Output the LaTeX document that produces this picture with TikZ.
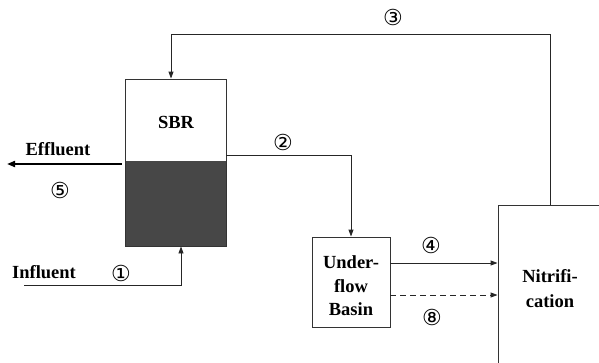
\documentclass[tikz,border=0pt]{standalone}
\usepackage{fontspec}
\setmainfont{Liberation Serif}
\newfontfamily\circfont{DejaVu Sans}
\usetikzlibrary{arrows.meta}

\begin{document}
\begin{tikzpicture}[
  x=1pt,
  y=-1pt,
  tankbox/.style={
    draw=black!80,
    line width=0.9pt,
    inner sep=0pt
  },
  tanktext/.style={
    font=\fontsize{18.5}{24}\selectfont\bfseries,
    align=center,
    inner sep=0pt
  },
  flowline/.style={
    draw=black!85,
    line width=0.9pt,
    -{Triangle[length=7pt,width=5pt]}
  },
  effline/.style={
    draw=black,
    line width=1.8pt,
    -{Triangle[length=8pt,width=6pt]}
  },
  circnum/.style={
    font=\circfont\fontsize{22}{22}\selectfont,
    inner sep=0pt
  }
]

\useasboundingbox (0,0) rectangle (599,362);
\clip (0,0) rectangle (599,362);

% reactor with settled sludge
\fill[black!72] (125,161) rectangle (226,246);
\node[tankbox, minimum width=101, minimum height=167] (sbr) at (175.5,162.5) {};
\node[tanktext] (sbrtext) at (176,122) {SBR};

\node[tankbox, minimum width=78, minimum height=90] (ubasin) at (351,282) {};
\node[tanktext, font=\fontsize{18.5}{23.5}\selectfont\bfseries] (ubtext) at (351,286) {Under-\\flow\\Basin};

% nitrification tank runs past the page edge
\node[tankbox, minimum width=104, minimum height=200] (nitri) at (550,305) {};
\node[tanktext, font=\fontsize{18.5}{25}\selectfont\bfseries] (nitritext) at (550,289) {Nitrifi-\\cation};

\node[tanktext] (effltext) at (58,149) {Effluent};
\node[tanktext] (infltext) at (44,272) {Influent};

\coordinate (topleft) at (171,34);
\coordinate (inflstart) at (24,285);
\coordinate (efflend) at (7,164);

\draw[flowline] (inflstart) -| ([xshift=5.5pt]sbr.south);
\draw[flowline] ([yshift=7.5pt]sbr.east) -| (ubasin.north);
\draw[flowline] (nitri.north) |- (topleft) -- (topleft |- sbr.north);
\draw[flowline] ([yshift=19pt]ubasin.east) -- ([yshift=19pt]ubasin.east -| nitri.west);
\draw[flowline, dashed, dash pattern=on 6pt off 4pt] ([yshift=-13pt]ubasin.east) -- ([yshift=-13pt]ubasin.east -| nitri.west);
\draw[effline] ([xshift=-3pt]sbr.west |- efflend) -- (efflend);

\node[circnum] (n1) at (121,273) {①};
\node[circnum] (n2) at (283,142) {②};
\node[circnum] (n3) at (393,17) {③};
\node[circnum] (n4) at (431,245) {④};
\node[circnum] (n5) at (60,190) {⑤};
\node[circnum] (n8) at (432,317) {⑧};

\end{tikzpicture}
\end{document}
